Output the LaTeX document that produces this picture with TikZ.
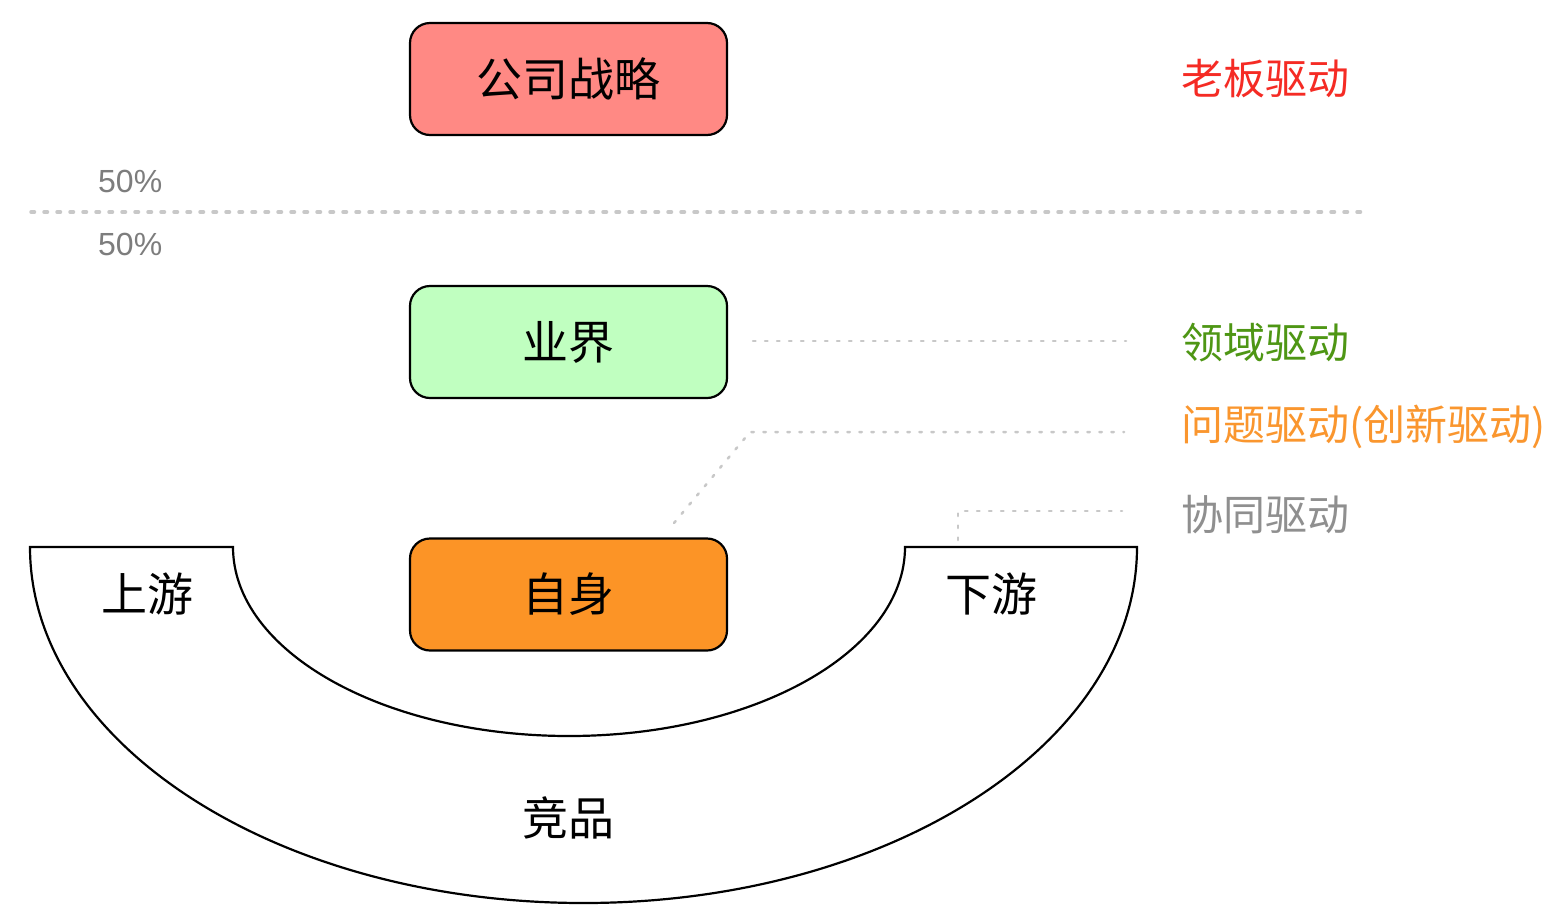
\documentclass[tikz,border=0pt]{standalone}
\usepackage{fontspec}
\setmainfont{Noto Sans CJK SC}
\newfontfamily\latinsans{Liberation Sans}
\definecolor{boxred}{RGB}{255,137,132}
\definecolor{boxgreen}{RGB}{192,255,192}
\definecolor{boxorange}{RGB}{252,148,38}
\definecolor{txtred}{RGB}{245,43,36}
\definecolor{txtgreen}{RGB}{78,150,20}
\definecolor{txtorange}{RGB}{250,150,46}
\definecolor{txtgray}{RGB}{143,143,143}
\definecolor{pctgray}{RGB}{125,125,125}
\definecolor{dotgray}{RGB}{200,200,200}
\begin{document}
\begin{tikzpicture}[x=1pt,y=-1pt,
  boxstyle/.style={draw=black,line width=2.2pt,rounded corners=20pt,minimum width=317pt,minimum height=112pt,inner sep=0pt,font=\fontsize{46}{50}\selectfont},
  plainlabel/.style={inner sep=0pt,font=\fontsize{46}{50}\selectfont},
  sidelabel/.style={inner sep=0pt,anchor=west,font=\fontsize{42}{46}\selectfont},
  pctlabel/.style={inner sep=0pt,anchor=west,text=pctgray,font=\latinsans\fontsize{32}{36}\selectfont},
  bigdots/.style={draw=dotgray,line width=3.5pt,line cap=round,dash pattern=on 3.5pt off 9.5pt},
  smalldots/.style={draw=dotgray,line width=2.5pt,line cap=round,dash pattern=on 2.5pt off 9.5pt}
]
\useasboundingbox (0,0) rectangle (1554,916);
\fill[white] (0,0) rectangle (1554,916);

% arc shape
\draw[line width=2.2pt,fill=white] (30,547) -- (233,547)
  arc[start angle=180,end angle=0,x radius=336,y radius=189]
  -- (1137,547)
  arc[start angle=0,end angle=180,x radius=553.5,y radius=356]
  -- cycle;

% boxes
\node[boxstyle,fill=boxred] (strategy) at (568.5,79) {公司战略};
\node[boxstyle,fill=boxgreen] (industry) at (568.5,342) {业界};
\node[boxstyle,fill=boxorange] (self) at (568.5,594.5) {自身};

\node[plainlabel] (up) at (147,594) {上游};
\node[plainlabel] (down) at (991,594) {下游};
\node[plainlabel] (comp) at (568,818) {竞品};

% side labels
\node[sidelabel,text=txtred] (boss) at (1181,79) {老板驱动};
\node[sidelabel,text=txtgreen] (domain) at (1181,343) {领域驱动};
\node[sidelabel,text=txtorange] (problem) at (1181,427) {问题驱动(创新驱动)};
\node[sidelabel,text=txtgray] (synergy) at (1181,515) {协同驱动};

% percentages
\node[pctlabel] (pcttop) at (98,181) {50\%};
\node[pctlabel] (pctbot) at (98,244) {50\%};

% dotted lines
\coordinate (divl) at (31,212);
\coordinate (divr) at (1362,212);
\draw[bigdots] (divl) -- (divr);

\coordinate (indA) at (753,341);
\coordinate (indB) at (1126,341);
\draw[smalldots] (indA) -- (indB);

\coordinate (probA) at (674,523);
\coordinate (probB) at (750,432);
\coordinate (probC) at (1124,432);
\draw[smalldots] (probA) -- (probB) -- (probC);

\coordinate (synA) at (958,540);
\coordinate (synB) at (958,511);
\coordinate (synC) at (1122,511);
\draw[smalldots] (synA) -- (synB) -- (synC);
\end{tikzpicture}
\end{document}
